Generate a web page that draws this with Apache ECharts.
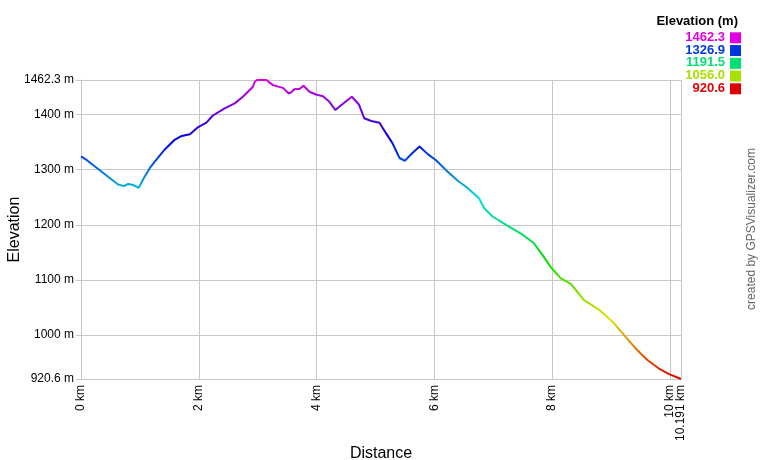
<!DOCTYPE html>
<html>
<head>
<meta charset="utf-8">
<script src="https://cdn.jsdelivr.net/npm/echarts@6/dist/echarts.min.js"></script>
<style>html,body{margin:0;padding:0;background:#fff;}#c{width:760px;height:460px;}</style>
</head>
<body>
<div id="c"></div>
<script>
// Distance (km) and elevation (m) read from the profile
const distanceKm = [0.00,0.10,0.27,0.46,0.63,0.73,0.80,0.89,0.98,1.08,1.17,1.25,1.42,1.59,1.71,1.85,1.99,2.13,2.24,2.44,2.61,2.75,2.92,2.95,2.99,3.15,3.26,3.43,3.53,3.57,3.63,3.71,3.78,3.88,3.99,4.11,4.21,4.32,4.47,4.60,4.72,4.81,4.93,5.07,5.18,5.29,5.41,5.50,5.63,5.75,5.89,6.03,6.20,6.42,6.54,6.76,6.85,6.99,7.22,7.50,7.69,7.84,7.98,8.15,8.32,8.54,8.80,9.05,9.25,9.42,9.62,9.81,9.98,10.191];
const elevationM = [1324,1317,1303,1287,1273,1270,1274,1272,1267,1287,1303,1314,1336,1354,1361,1364,1377,1385,1398,1411,1420,1432,1450,1459,1462.3,1462.3,1453,1448,1438,1440,1446,1446,1452,1441,1436,1433,1424,1408,1421,1432,1418,1393,1388,1385,1366,1348,1321,1316,1330,1342,1328,1317,1299,1278,1269,1248,1230,1215,1200,1182,1167,1145,1123,1103,1093,1064,1046,1022,997,976,955,940,930,920.6];
const elevMin = 920.6, elevMax = 1462.3, distMax = 10.191;
const legendTitle = 'Elevation (m)';
const legendLabels = ['1462.3','1326.9','1191.5','1056.0','920.6'];
const legendColors = ['#e000e0','#0037e0','#00e070','#a8e000','#e00000'];
const gradientColors = ['#e00000','#e07000','#e0e000','#70e000','#00e000','#00e070','#00e0e0','#0070e0','#0000e0','#7000e0','#e000e0'];
const creditText = 'created by GPSVisualizer.com';

const FONT = 'Liberation Sans, Arial, sans-serif';
const data = distanceKm.map((d,i)=>[d, elevationM[i]]);

const graphics = [
  {type:'text', x:738, y:21, style:{text:legendTitle, font:'bold 13px '+FONT, fill:'#000', align:'right', verticalAlign:'middle'}}
];
legendLabels.forEach((t,i)=>{
  const y = 37.3 + i*12.75;
  graphics.push({type:'text', x:725, y:y, style:{text:t, font:'bold 13px '+FONT, fill:legendColors[i], align:'right', verticalAlign:'middle'}});
  graphics.push({type:'rect', shape:{x:730, y:y-5, width:11, height:11}, style:{fill:legendColors[i]}});
});
graphics.push({type:'text', x:752, y:229, rotation:Math.PI/2, style:{text:creditText, font:'12px '+FONT, fill:'#666', align:'center', verticalAlign:'middle'}});

const gridLine = {color:'#c8c8c8', width:1};
const chart = echarts.init(document.getElementById('c'), null, {renderer:'canvas'});
chart.setOption({
  animation:false,
  backgroundColor:'#fff',
  grid:{left:81, right:79, top:80, bottom:81, containLabel:false, outerBoundsMode:'none'},
  xAxis:[{
    type:'value', min:0, max:distMax, interval:2,
    name:'Distance', nameLocation:'middle', nameGap:67,
    nameTextStyle:{fontFamily:FONT, fontSize:16, color:'#000'},
    axisLine:{show:true, lineStyle:gridLine},
    axisTick:{show:false},
    axisLabel:{rotate:90, fontFamily:FONT, fontSize:12, color:'#000', margin:6, hideOverlap:false, showMaxLabel:false, showMinLabel:true,
      formatter:v=>v+' km'},
    splitLine:{show:true, lineStyle:gridLine}
  },{
    type:'value', min:0, max:distMax, interval:20, position:'bottom',
    axisLine:{show:false}, axisTick:{show:false}, splitLine:{show:false},
    axisLabel:{rotate:90, fontFamily:FONT, fontSize:12, color:'#000', margin:6, hideOverlap:false, showMaxLabel:true, showMinLabel:false,
      formatter:v=>(v===distMax ? v+' km' : '')}
  }],
  yAxis:{
    type:'value', min:elevMin, max:elevMax,
    name:'Elevation', nameLocation:'middle', nameGap:58, nameRotate:90, nameMoveOverlap:false,
    nameTextStyle:{fontFamily:FONT, fontSize:16, color:'#000'},
    axisLine:{show:true, lineStyle:gridLine},
    axisTick:{show:true, length:5, lineStyle:gridLine},
    axisLabel:{fontFamily:FONT, fontSize:12, color:'#000', margin:7, hideOverlap:false, showMaxLabel:true, showMinLabel:true,
      formatter:v=>v+' m'},
    splitLine:{show:true, lineStyle:gridLine}
  },
  visualMap:{type:'continuous', show:false, dimension:1, seriesIndex:0, min:elevMin, max:elevMax, inRange:{color:gradientColors}},
  series:[{type:'line', xAxisIndex:0, data:data, showSymbol:false, symbol:'none', lineStyle:{width:2}, clip:false}],
  graphic:graphics
});
</script>
</body>
</html>
